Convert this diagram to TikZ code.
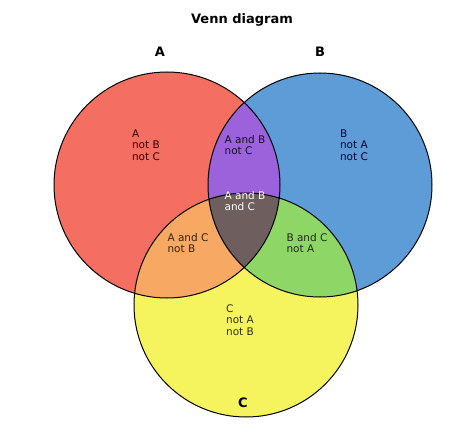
\documentclass[tikz,border=0pt]{standalone}
\usepackage{fontspec}
\setmainfont{DejaVu Sans}
\begin{document}
\begin{tikzpicture}[x=1pt,y=-1pt,
  lab/.style={font=\fontsize{10.5}{11.5}\selectfont,align=left},
  big/.style={font=\fontsize{13}{15}\selectfont\bfseries}]
\useasboundingbox (0,0) rectangle (474,436);
\definecolor{cA}{HTML}{F46E62}
\definecolor{cB}{HTML}{5D9CD6}
\definecolor{cC}{HTML}{F6F45E}
\definecolor{cAB}{HTML}{9B62DC}
\definecolor{cAC}{HTML}{F7A862}
\definecolor{cBC}{HTML}{8ED766}
\definecolor{cABC}{HTML}{6E5E5E}
\def\cirA{(167,185) circle (113)}
\def\cirB{(320,185) circle (112)}
\def\cirC{(246,305) circle (112)}
\fill[cA] \cirA; \fill[cB] \cirB; \fill[cC] \cirC;
\begin{scope}\clip \cirA; \fill[cAB] \cirB; \fill[cAC] \cirC; \end{scope}
\begin{scope}\clip \cirB; \fill[cBC] \cirC; \end{scope}
\begin{scope}\clip \cirA; \clip \cirB; \fill[cABC] \cirC; \end{scope}
\draw[line width=1pt] \cirA \cirB \cirC;
\node[big] (t) at (242,20) {Venn diagram};
\node[big] (la) at (160,52) {A};
\node[big] (lb) at (320,52) {B};
\node[big] (lc) at (243,403) {C};
\node[lab,text=black!80!red] (ra) at (146,145) {A\\not B\\not C};
\node[lab,text=black!80!blue] (rb) at (354,145) {B\\not A\\not C};
\node[lab,text=black!85!cAB] (rab) at (245,145) {A and B\\not C};
\node[lab,text=white] (rabc) at (245,201) {A and B\\and C};
\node[lab,text=black!80!cAC] (rac) at (188,243) {A and C\\not B};
\node[lab,text=black!80!cBC] (rbc) at (307,243) {B and C\\not A};
\node[lab,text=black!80!cC] (rc) at (240,320) {C\\not A\\not B};
\end{tikzpicture}
\end{document}
